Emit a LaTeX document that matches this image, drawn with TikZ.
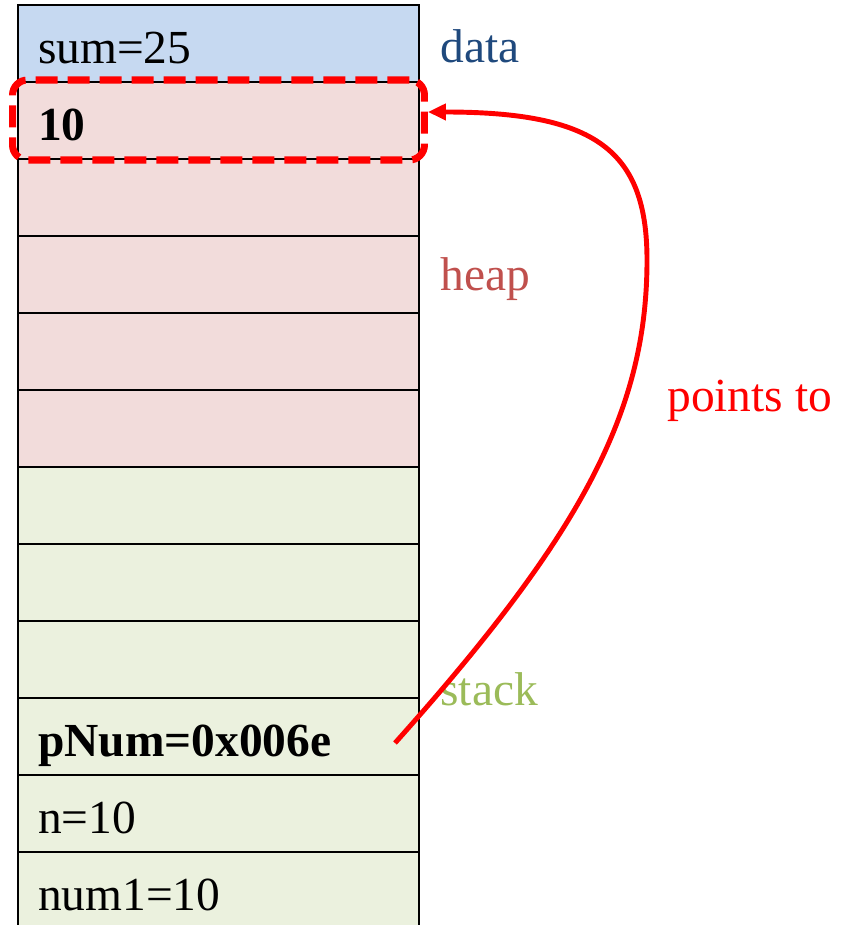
\documentclass[tikz,border=0pt]{standalone}
\usepackage{fontspec}
\setmainfont{Liberation Serif}
\usetikzlibrary{arrows.meta}
\definecolor{datafill}{HTML}{C6D9F1}
\definecolor{heapfill}{HTML}{F2DCDB}
\definecolor{stackfill}{HTML}{EBF1DE}
\definecolor{datatext}{HTML}{1F497D}
\definecolor{heaptext}{HTML}{C0504D}
\definecolor{stacktext}{HTML}{9BBB59}
\begin{document}
\begin{tikzpicture}[
            x=0.02cm,
            y=-0.02cm,
            cell/.style={rectangle, draw=black, line width=1.2pt, minimum width=8.02cm, minimum height=1.54cm,
                inner xsep=0.4cm, inner ysep=0pt, text width=7.22cm, align=left,
                font=\fontsize{27}{31}\selectfont, text height=23.2pt, text depth=0pt},
            segname/.style={anchor=west, inner sep=0pt, font=\fontsize{27}{31}\selectfont},
            selbox/.style={rectangle, draw=red, line width=4pt, rounded corners=0.3cm,
                dash pattern=on 0.44cm off 0.2cm, minimum width=8.24cm, minimum height=1.6cm, inner sep=0pt},
            pointer/.style={draw=red, line width=2.8pt, -{Triangle[length=0.36cm, width=0.32cm]}}
        ]
        \useasboundingbox (0,0) rectangle (845,925);
        \foreach \i/\c/\t in {1/datafill/sum=25, 2/heapfill/\textbf{10}, 3/heapfill/{}, 4/heapfill/{},
            5/heapfill/{}, 6/heapfill/{}, 7/stackfill/{}, 8/stackfill/{}, 9/stackfill/{},
            10/stackfill/\textbf{pNum=0x006e}, 11/stackfill/n=10, 12/stackfill/num1=10} {
            \node[cell, fill=\c] (r\i) at (218.5,{43.5+77*(\i-1)}) {\t};
        }
        \node[selbox] (box10) at (218.5,120) {};
        \node[segname, text=datatext] (data) at (440,46) {data};
        \node[segname, text=heaptext] (heap) at (440,279) {heap};
        \node[segname, text=stacktext] (stack) at (440,689) {stack};
        \node[segname, text=red] (ptlabel) at (667,401) {points to};
        \coordinate (src) at (395,743);
        \draw[pointer] (src) .. controls (583,533) and (647,410) .. (647,260)
            .. controls (647,150) and (595,112) .. ([yshift=0.16cm]box10.east);
    \end{tikzpicture}
\end{document}
